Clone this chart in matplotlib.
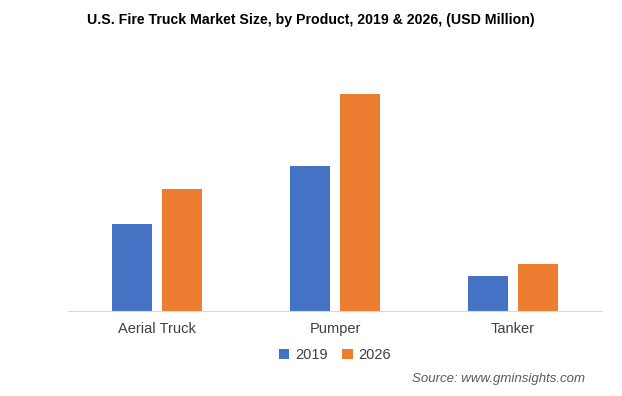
import numpy as np
import matplotlib.pyplot as plt

plt.rcParams['font.family'] = ['Liberation Sans', 'DejaVu Sans']

# Chart data
products = ["Aerial Truck", "Pumper", "Tanker"]
years = ["2019", "2026"]
size_2019 = [87, 145, 35]
size_2026 = [122, 217, 47]

colors = ["#4472C4", "#ED7D31"]

fig = plt.figure(figsize=(6.22, 3.96), dpi=100)
ax = fig.add_axes([68 / 622, 1 - 311 / 396, 534 / 622, 251 / 396])

x = np.arange(len(products))
width = 0.225
offset = 0.143
ax.bar(x - offset, size_2019, width, color=colors[0], label=years[0])
ax.bar(x + offset, size_2026, width, color=colors[1], label=years[1])

ax.set_xlim(-0.5, len(products) - 0.5)
ax.set_ylim(0, 251)
ax.set_yticks([])
ax.set_xticks(x)
ax.set_xticklabels(products, fontsize=10.5, color="#404040")
ax.tick_params(axis="x", length=0, pad=8)
for s in ["top", "right", "left"]:
    ax.spines[s].set_visible(False)
ax.spines["bottom"].set_color("#d9d9d9")

fig.text(0.5, 1 - 20 / 396, "U.S. Fire Truck Market Size, by Product, 2019 & 2026, (USD Million)",
         ha="center", va="center", fontsize=10.2, fontweight="bold", color="#000000")

ax.legend(loc="center", bbox_to_anchor=(0.5, (311 - 355) / 251), ncol=2, frameon=False,
          fontsize=10.5, handlelength=0.7, handleheight=0.7, columnspacing=1.0, handletextpad=0.4,
          labelcolor="#404040")

fig.text(585 / 622, 1 - 379 / 396, "Source: www.gminsights.com", ha="right", va="center",
         fontsize=9.5, style="italic", color="#595959")

fig.savefig("out.png", dpi=100)
